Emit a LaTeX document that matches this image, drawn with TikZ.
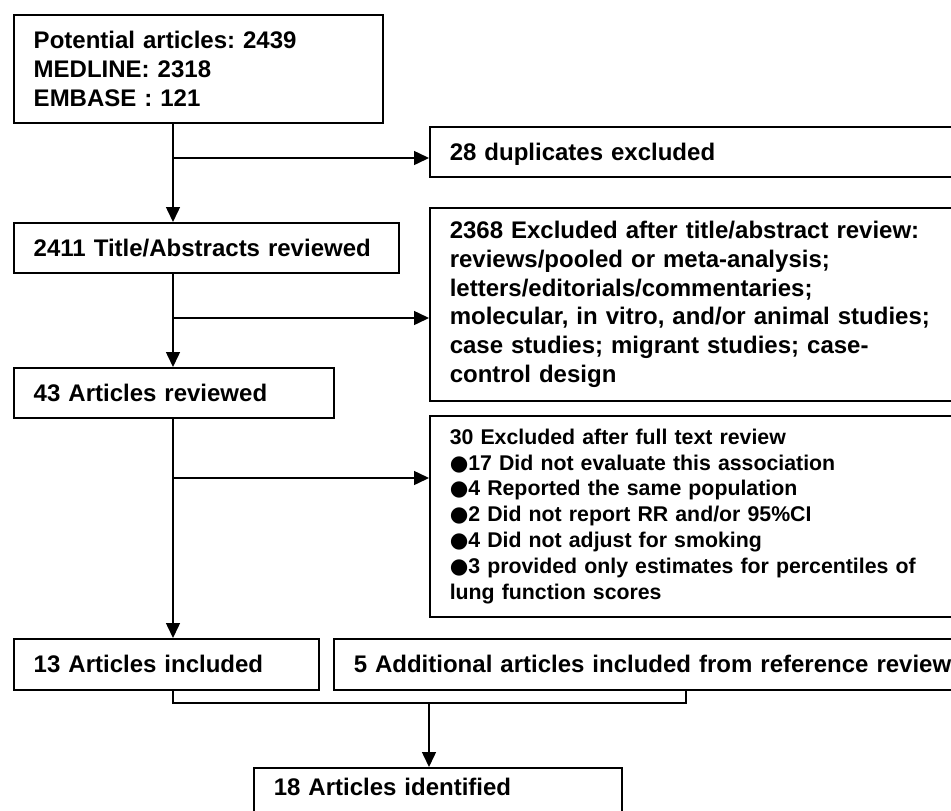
\documentclass[tikz,border=0pt]{standalone}
\usepackage{fontspec}
\setmainfont{Liberation Sans}
\newfontfamily\bulletfont{DejaVu Sans}
\newcommand{\blt}{{\bulletfont ●}}
\usetikzlibrary{arrows.meta}
\frenchspacing
\begin{document}
\begin{tikzpicture}[x=1pt,y=-1pt,
  fbox/.style={draw, line width=1.5pt, rectangle, inner xsep=20pt, inner ysep=0pt,
    align=left, anchor=north west,
    font=\bfseries\fontsize{24}{28.8}\selectfont},
  oneline/.style={text height=17.2pt, text depth=0pt},
  conn/.style={line width=1.5pt},
  arr/.style={conn, -{Triangle[length=15pt,width=14pt]}}]
\useasboundingbox (0,0) rectangle (951,811);
\node[fbox, minimum width=369pt, minimum height=108pt, text width=329pt] (b1) at (13,14)
  {Potential articles: 2439\\MEDLINE: 2318\\EMBASE : 121};
\node[fbox, oneline, minimum width=531pt, minimum height=50pt, text width=491pt] (b2) at (429,126)
  {28 duplicates excluded};
\node[fbox, oneline, minimum width=385pt, minimum height=50pt, text width=345pt] (b3) at (13,222)
  {2411 Title/Abstracts reviewed};
\node[fbox, minimum width=531pt, minimum height=193pt, text width=491pt] (b4) at (429,207)
  {2368 Excluded after title/abstract review:\\reviews/pooled or meta-analysis;\\letters/editorials/commentaries;\\molecular, in vitro, and/or animal studies;\\case studies; migrant studies; case-\\control design};
\node[fbox, oneline, minimum width=320pt, minimum height=50pt, text width=280pt] (b5) at (13,367)
  {43 Articles reviewed};
\node[fbox, minimum width=531pt, minimum height=201pt, text width=491pt,
  font=\bfseries\fontsize{21.3}{25.8}\selectfont] (b6) at (429,415)
  {30 Excluded after full text review\\\blt17 Did not evaluate this association\\\blt4 Reported the same population\\\blt2 Did not report RR and/or 95\%CI\\\blt4 Did not adjust for smoking\\\blt3 provided only estimates for percentiles of\\lung function scores};
\node[fbox, oneline, minimum width=305pt, minimum height=51pt, text width=265pt] (b7) at (13,638)
  {13 Articles included};
\node[fbox, oneline, minimum width=680pt, minimum height=51pt, text width=640pt] (b8) at (333,638)
  {5 Additional articles included from reference review};
\node[fbox, text height=28pt, text depth=32pt, minimum width=368pt, minimum height=60pt, text width=328pt] (b9) at (253,767)
  {18 Articles identified};
\coordinate (spine) at (173,0);
\coordinate (j1) at (173,158);
\coordinate (j2) at (173,318);
\coordinate (j3) at (173,478);
\coordinate (mL) at (173,703);
\coordinate (mR) at (686,703);
\coordinate (mC) at (429,703);
\draw[arr] (b1.south -| spine) -- (b3.north -| spine);
\draw[arr] (j1) -- (j1 -| b2.west);
\draw[arr] (b3.south -| spine) -- (b5.north -| spine);
\draw[arr] (j2) -- (j2 -| b4.west);
\draw[arr] (b5.south -| spine) -- (b7.north -| spine);
\draw[arr] (j3) -- (j3 -| b6.west);
\draw[conn] (b7.south -| mL) -- (mL) -- (mR) -- (b8.south -| mR);
\draw[arr] (mC) -- (b9.north -| mC);
\end{tikzpicture}
\end{document}
